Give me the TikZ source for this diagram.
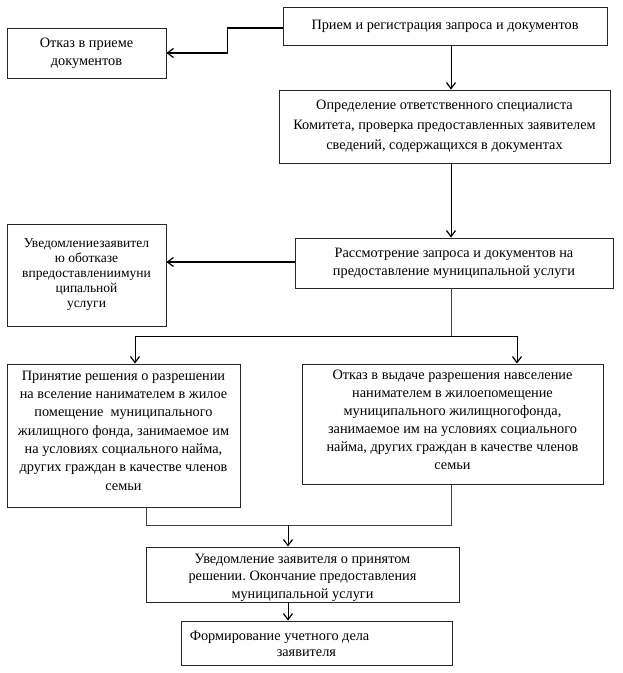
\documentclass[tikz,border=0pt]{standalone}
\usepackage{fontspec}
\setmainfont{Liberation Serif}
\usetikzlibrary{arrows.meta}
\frenchspacing
\begin{document}
\begin{tikzpicture}[x=1pt,y=-1pt,
  box/.style={draw=black!85, line width=0.9pt, inner sep=0pt, align=center,
    font=\fontsize{14.3}{18}\selectfont},
  txt/.style={inner sep=0pt, align=center, font=\fontsize{14.3}{18}\selectfont},
  arr/.style={-{Straight Barb[length=6pt,width=9pt,line width=1.2pt]}, line width=1pt},
  thk/.style={line width=1.6pt},
  thn/.style={line width=0.8pt, draw=black!75}]
\useasboundingbox (0,0) rectangle (623,673);
\fill[white] (0,0) rectangle (623,673);
\coordinate (col) at (451,0);

\node[box, minimum width=324pt, minimum height=38pt] (b1) at (445,26)
  {Прием и регистрация запроса и документов};
\node[box, minimum width=159pt, minimum height=50pt] (otk) at (86.5,53)
  {Отказ в приеме\\документов};
\node[box, minimum width=331pt, minimum height=73pt, font=\fontsize{14.3}{20}\selectfont] (opr) at (444.5,126.5)
  {Определение ответственного специалиста\\Комитета, проверка предоставленных заявителем\\сведений, содержащихся в документах};
\node[box, minimum width=159pt, minimum height=102pt, font=\fontsize{13.5}{15}\selectfont] (uvo) at (86.5,275)
  {Уведомлениезаявител\\ю оботказе\\впредоставлениимуни\\ципальной\\услуги};
\node[box, minimum width=318pt, minimum height=50pt] (ras) at (454,263)
  {Рассмотрение запроса и документов на\\предоставление муниципальной услуги};

\node[box, minimum width=233pt, minimum height=143pt] (lb) at (123.5,435.5) {};
\node[txt, font=\fontsize{14.3}{18.3}\selectfont] (lbt) at ([yshift=5pt]lb.center)
  {Принятие решения о разрешении\\на вселение нанимателем в жилое\\помещение\ \ муниципального\\жилищного фонда, занимаемое им\\на условиях социального найма,\\других граждан в качестве членов\\семьи};
\node[box, minimum width=301pt, minimum height=120pt] (rb) at (452.5,424) {};
\node[txt] (rbt) at ([yshift=4pt]rb.center)
  {Отказ в выдаче разрешения навселение\\нанимателем в жилоепомещение\\муниципального жилищногофонда,\\занимаемое им на условиях социального\\найма, других граждан в качестве членов\\семьи};
\node[box, minimum width=313pt, minimum height=55pt] (uv) at (302.5,574.5) {};
\node[txt, font=\fontsize{14.3}{17.5}\selectfont] (uvt) at ([yshift=-3pt]uv.center)
  {Уведомление заявителя о принятом\\решении. Окончание предоставления\\муниципальной услуги};
\node[box, minimum width=271pt, minimum height=44pt] (fm) at (316.5,643) {};
\node[txt, align=left, anchor=west, font=\fontsize{14.3}{16}\selectfont] (fmt) at ([xshift=9pt,yshift=-1pt]fm.west)
  {Формирование учетного дела\\\hspace*{87pt}заявителя};

% connectors
\draw[arr, thk] ([yshift=-2pt]b1.west) -- ++(-55,0) |- (otk.east);
\draw[arr] (b1.south -| col) -- (opr.north -| col);
\draw[arr] (opr.south -| col) -- (ras.north -| col);
\coordinate (rw) at ([yshift=1pt]ras.west);
\draw[arr, thk] (rw) -- (uvo.east |- rw);
\coordinate (split) at (451,336);
\draw[thn] (ras.south -| col) -- (split);
\draw[arr] (split) -| ([xshift=11.5pt]lb.north);
\draw[arr] (split) -| ([xshift=64.5pt]rb.north);
\coordinate (join) at (288,525);
\draw[thn] ([xshift=22.5pt]lb.south) |- (join);
\draw[thn] (rb.south -| col) |- (join);
\draw[arr] (join) -- (uv.north -| join);
\draw[arr] (uv.south -| join) -- (fm.north -| join);
\end{tikzpicture}
\end{document}
